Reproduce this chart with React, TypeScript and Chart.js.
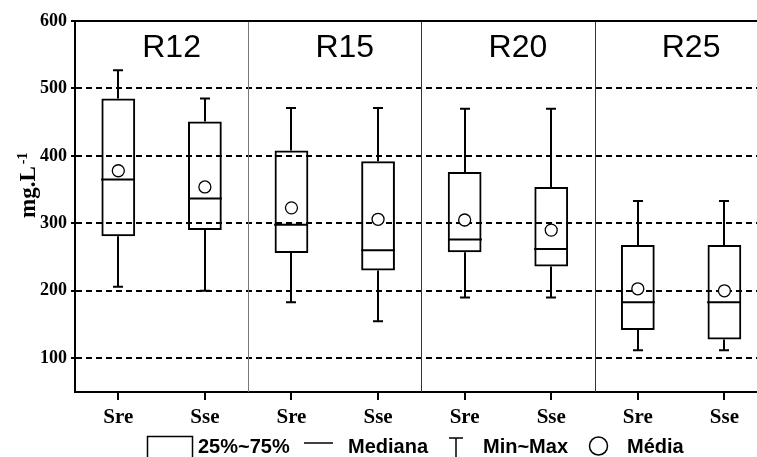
import { useEffect, useRef } from 'react';
import { Chart, registerables } from 'chart.js';

Chart.register(...registerables);

const categories = ['Sre', 'Sse', 'Sre', 'Sse', 'Sre', 'Sse', 'Sre', 'Sse'];
const groups = ['R12', 'R15', 'R20', 'R25'];
const minValues = [206, 200, 183, 155, 190, 190, 112, 112];
const q1Values = [281, 290, 256, 230, 257, 236, 142, 128];
const medianValues = [365, 337, 298, 260, 276, 262, 183, 183];
const q3Values = [485, 451, 408, 392, 376, 354, 268, 268];
const maxValues = [527, 485, 471, 471, 470, 470, 333, 333];
const meanValues = [378, 354, 323, 306, 305, 290, 203, 200];
const yTicks = [100, 200, 300, 400, 500, 600];
const yMin = 50;
const yMax = 600;
const yTitle = 'mg.L';
const yTitleSup = '-1';
const legendLabels = ['25%~75%', 'Mediana', 'Min~Max', 'Média'];

const SERIF = '"Liberation Serif", "Times New Roman", serif';
const SANS = '"Liberation Sans", Arial, sans-serif';

const boxPlugin = {
  id: 'boxExtras',
  beforeDatasetsDraw(chart: any) {
    const { ctx, chartArea, scales } = chart;
    const x = scales.x;
    const y = scales.y;
    const meta = chart.getDatasetMeta(0);
    ctx.save();
    // group dividers
    ctx.lineWidth = 1;
    for (let g = 1; g < groups.length; g++) {
      ctx.strokeStyle = g === 1 ? '#777' : '#333';
      const px = Math.round((x.getPixelForValue(g * 2 - 1) + x.getPixelForValue(g * 2)) / 2) + 0.5;
      ctx.beginPath();
      ctx.moveTo(px, chartArea.top);
      ctx.lineTo(px, chartArea.bottom);
      ctx.stroke();
    }
    // top border
    ctx.strokeStyle = '#000';
    ctx.lineWidth = 2;
    ctx.beginPath();
    ctx.moveTo(chartArea.left, chartArea.top);
    ctx.lineTo(chartArea.right, chartArea.top);
    ctx.stroke();
    // group labels
    ctx.fillStyle = '#000';
    ctx.font = `32px ${SANS}`;
    ctx.textAlign = 'center';
    ctx.textBaseline = 'alphabetic';
    groups.forEach((g, i) => {
      const cx = (x.getPixelForValue(i * 2) + x.getPixelForValue(i * 2 + 1)) / 2 + 10;
      ctx.fillText(g, cx, chartArea.top + 36);
    });
    // whiskers & medians
    ctx.strokeStyle = '#000';
    ctx.lineWidth = 2;
    categories.forEach((_, i) => {
      const px = Math.round(x.getPixelForValue(i));
      const bw = meta.data[i] ? meta.data[i].width : 34;
      const yMinP = y.getPixelForValue(minValues[i]);
      const yQ1 = y.getPixelForValue(q1Values[i]);
      const yQ3 = y.getPixelForValue(q3Values[i]);
      const yMaxP = y.getPixelForValue(maxValues[i]);
      const yMed = y.getPixelForValue(medianValues[i]);
      ctx.beginPath();
      ctx.moveTo(px, yQ1);
      ctx.lineTo(px, yMinP);
      ctx.moveTo(px, yQ3);
      ctx.lineTo(px, yMaxP);
      ctx.moveTo(px - 5, yMinP);
      ctx.lineTo(px + 5, yMinP);
      ctx.moveTo(px - 5, yMaxP);
      ctx.lineTo(px + 5, yMaxP);
      ctx.moveTo(px - bw / 2, yMed);
      ctx.lineTo(px + bw / 2, yMed);
      ctx.stroke();
    });
    ctx.restore();
  },
  afterDraw(chart: any) {
    const { ctx } = chart;
    ctx.save();
    ctx.fillStyle = '#000';
    ctx.strokeStyle = '#000';
    // y axis title
    ctx.translate(35, 218);
    ctx.rotate(-Math.PI / 2);
    ctx.font = `bold 23px ${SERIF}`;
    ctx.textAlign = 'left';
    ctx.textBaseline = 'alphabetic';
    ctx.fillText(yTitle, 0, 0);
    const w = ctx.measureText(yTitle).width;
    ctx.font = `bold 14px ${SERIF}`;
    ctx.fillText(yTitleSup, w + 2, -8);
    ctx.restore();

    // legend
    ctx.save();
    ctx.fillStyle = '#000';
    ctx.strokeStyle = '#000';
    ctx.lineWidth = 1.5;
    ctx.font = `bold 20px ${SANS}`;
    ctx.textAlign = 'left';
    ctx.textBaseline = 'alphabetic';
    const base = 453;
    ctx.strokeRect(147.5, 436.5, 45, 40);
    ctx.fillText(legendLabels[0], 198, base);
    ctx.beginPath();
    ctx.moveTo(304, 443);
    ctx.lineTo(333, 443);
    ctx.stroke();
    ctx.fillText(legendLabels[1], 348, base);
    ctx.beginPath();
    ctx.moveTo(449, 438);
    ctx.lineTo(463, 438);
    ctx.moveTo(456, 438);
    ctx.lineTo(456, 460);
    ctx.stroke();
    ctx.fillText(legendLabels[2], 483, base);
    ctx.beginPath();
    ctx.arc(598.5, 446, 9, 0, Math.PI * 2);
    ctx.stroke();
    ctx.fillText(legendLabels[3], 627, base);
    ctx.restore();
  },
};

export default function App() {
  const ref = useRef<HTMLCanvasElement | null>(null);
  useEffect(() => {
    if (!ref.current) return;
    const chart = new Chart(ref.current, {
      type: 'bar',
      data: {
        labels: categories,
        datasets: [
          {
            type: 'bar',
            data: q1Values.map((q, i) => [q, q3Values[i]]) as any,
            backgroundColor: 'rgba(255,255,255,0)',
            borderColor: '#000',
            borderWidth: 2,
            borderSkipped: false,
            barPercentage: 0.39,
            categoryPercentage: 1,
            order: 2,
          },
          {
            type: 'line',
            data: meanValues,
            showLine: false,
            pointStyle: 'circle',
            pointRadius: 6,
            pointBackgroundColor: '#fff',
            pointBorderColor: '#000',
            pointBorderWidth: 1.3,
            order: 1,
          } as any,
        ],
      },
      options: {
        responsive: false,
        animation: false,
        devicePixelRatio: 1,
        layout: { padding: { top: 21, right: 6.5, left: 0, bottom: 0 } },
        plugins: { legend: { display: false }, tooltip: { enabled: false } },
        scales: {
          x: {
            type: 'category',
            offset: true,
            grid: {
              offset: false,
              drawOnChartArea: false,
              drawTicks: true,
              tickLength: 8,
              color: '#000',
              lineWidth: 2,
            },
            border: { display: true, color: '#000', width: 2 },
            ticks: {
              color: '#000',
              padding: 5,
              font: { family: SERIF, weight: 'bold', size: 21 },
            },
            afterFit(scale: any) {
              scale.height = 65;
            },
          },
          y: {
            type: 'linear',
            min: yMin,
            max: yMax,
            afterBuildTicks(scale: any) {
              scale.ticks = yTicks.map((v) => ({ value: v }));
            },
            grid: {
              drawTicks: true,
              tickLength: 4,
              lineWidth: 2,
              color: (c: any) => (c.tick && c.tick.value === 600 ? 'rgba(0,0,0,0)' : '#000'),
              tickColor: '#000',
            },
            border: { display: true, color: '#000', width: 2, dash: [6, 4] },
            ticks: {
              color: '#000',
              padding: 4,
              font: { family: SERIF, weight: 'bold', size: 18 },
            },
            afterFit(scale: any) {
              scale.width = 75;
            },
          },
        },
      },
      plugins: [boxPlugin],
    });
    return () => chart.destroy();
  }, []);
  return (
    <div style={{ position: 'fixed', left: 0, top: 0, width: 757, height: 457, overflow: 'hidden', background: '#fff' }}>
      <canvas ref={ref} width={775} height={457} style={{ display: 'block', width: 775, height: 457 }} />
    </div>
  );
}
